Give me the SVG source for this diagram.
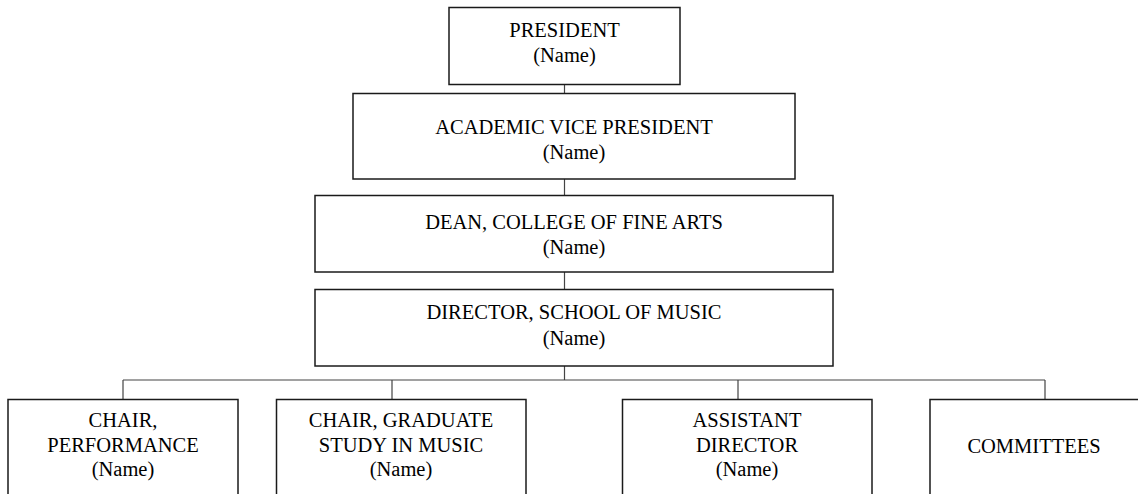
<svg xmlns="http://www.w3.org/2000/svg" width="1138" height="494" viewBox="0 0 1138 494">
<style>
.box{fill:#fff;stroke:#1a1a1a;stroke-width:1.5}
.t{font-family:"Liberation Serif","Times New Roman",serif;font-size:20.5px;fill:#000;text-anchor:middle}
.c{fill:none;stroke:#444;stroke-width:1.2}
</style>
<rect width="1138" height="494" fill="#fff"/>
<g id="connectors">
<path class="c" d="M564.5 84V93M564.5 179V195M564.5 272V289M564.5 366V380M123 380H1045M123 380V399M392 380V399M738 380V399M1045 380V399"/>
</g>
<g id="president">
<rect class="box" x="449" y="7.5" width="231" height="77"/>
<text class="t" x="564.5" y="37">PRESIDENT</text>
<text class="t" x="564.5" y="62">(Name)</text>
</g>
<g id="avp">
<rect class="box" x="353" y="93.5" width="442" height="85.5"/>
<text class="t" x="574" y="134">ACADEMIC VICE PRESIDENT</text>
<text class="t" x="574" y="159">(Name)</text>
</g>
<g id="dean">
<rect class="box" x="315" y="195.5" width="518" height="76.5"/>
<text class="t" x="574" y="229">DEAN, COLLEGE OF FINE ARTS</text>
<text class="t" x="574" y="254">(Name)</text>
</g>
<g id="director">
<rect class="box" x="315" y="289.5" width="518" height="76.5"/>
<text class="t" x="574" y="319">DIRECTOR, SCHOOL OF MUSIC</text>
<text class="t" x="574" y="345">(Name)</text>
</g>
<g id="chair-performance">
<rect class="box" x="8" y="399.5" width="230" height="110"/>
<text class="t" x="123" y="427">CHAIR,</text>
<text class="t" x="123" y="452">PERFORMANCE</text>
<text class="t" x="123" y="476">(Name)</text>
</g>
<g id="chair-graduate">
<rect class="box" x="276.5" y="399.5" width="249.5" height="110"/>
<text class="t" x="401" y="427">CHAIR, GRADUATE</text>
<text class="t" x="401" y="452">STUDY IN MUSIC</text>
<text class="t" x="401" y="476">(Name)</text>
</g>
<g id="assistant-director">
<rect class="box" x="622.5" y="399.5" width="249.5" height="110"/>
<text class="t" x="747" y="427">ASSISTANT</text>
<text class="t" x="747" y="452">DIRECTOR</text>
<text class="t" x="747" y="476">(Name)</text>
</g>
<g id="committees">
<rect class="box" x="930" y="399.5" width="210" height="110"/>
<text class="t" x="1034" y="453">COMMITTEES</text>
</g>
</svg>
